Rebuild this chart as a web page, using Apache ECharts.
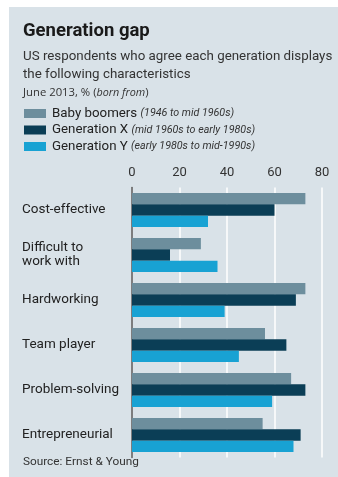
<!DOCTYPE html>
<html>
<head>
<meta charset="utf-8">
<script src="https://cdn.jsdelivr.net/npm/echarts@6/dist/echarts.min.js"></script>
<style>
html,body{margin:0;padding:0;background:#ffffff;}
#chart{width:338px;height:477px;}
</style>
</head>
<body>
<div id="chart"></div>
<script>
var categories = ['Cost-effective', 'Difficult to\nwork with', 'Hardworking', 'Team player', 'Problem-solving', 'Entrepreneurial'];
var seriesNames = ['Baby boomers', 'Generation X', 'Generation Y'];
var seriesNotes = ['1946 to mid 1960s', 'mid 1960s to early 1980s', 'early 1980s to mid-1990s'];
var babyBoomers = [73, 29, 73, 56, 67, 55];
var generationX = [60, 16, 69, 65, 73, 71];
var generationY = [32, 36, 39, 45, 59, 68];
var xTicks = [0, 20, 40, 60, 80];

var FONT = 'Roboto';
var colors = ['#6d8e9d', '#0b3e56', '#18a2d3'];
var values = [babyBoomers, generationX, generationY];

var chart = echarts.init(document.getElementById('chart'));
var series = seriesNames.map(function (n, i) {
  return {
    name: n, type: 'bar', data: values[i],
    barWidth: 11.3, barGap: '0%',
    itemStyle: { color: colors[i] },
    emphasis: { disabled: true }
  };
});
chart.setOption({
  animation: false,
  textStyle: { fontFamily: FONT },
  graphic: [{ type: 'rect', z: -10, shape: { x: 9, y: 7, width: 329, height: 470 }, style: { fill: '#d9e2e8' } }],
  title: [
    { text: 'Generation gap', left: 23, top: 22, padding: 0,
      textStyle: { fontFamily: FONT, fontWeight: 'bold', fontSize: 18.5, color: '#1a1a1a' } },
    { text: 'US respondents who agree each generation displays\nthe following characteristics', left: 23, top: 48, padding: 0,
      textStyle: { fontFamily: FONT, fontWeight: 'normal', fontSize: 13.35, lineHeight: 18, color: '#333' } },
    { text: 'June 2013, % ({i|born from})', left: 23, top: 87, padding: 0,
      textStyle: { fontFamily: 'Open Sans', fontWeight: 'normal', fontSize: 11.3, color: '#333',
        rich: { i: { fontStyle: 'italic', fontSize: 10.8, color: '#333', fontFamily: 'Open Sans' } } } },
    { text: 'Source: Ernst & Young', left: 23, top: 456, padding: 0,
      textStyle: { fontFamily: FONT, fontWeight: 'normal', fontSize: 11.8, color: '#333' } }
  ],
  legend: {
    orient: 'vertical', left: 24, top: 107, padding: 0,
    itemWidth: 22, itemHeight: 9, itemGap: 3.5, icon: 'rect',
    selectedMode: false,
    data: seriesNames,
    formatter: function (name) {
      var i = seriesNames.indexOf(name);
      return name + ' {i|(' + seriesNotes[i] + ')}';
    },
    textStyle: { fontFamily: FONT, fontSize: 13.3, color: '#222', padding: [0, 0, 0, 1],
      rich: { i: { fontStyle: 'italic', fontSize: 10.7, color: '#333', fontFamily: FONT } } }
  },
  grid: { left: 132, right: 16, top: 187.5, bottom: 19.5, containLabel: false },
  xAxis: {
    type: 'value', position: 'top', min: xTicks[0], max: xTicks[xTicks.length - 1], interval: 20,
    axisLine: { show: false }, axisTick: { show: false },
    axisLabel: { fontFamily: FONT, fontSize: 13, color: '#333', margin: 8 },
    splitLine: { lineStyle: { color: '#ffffff', width: 1.5 } }
  },
  yAxis: {
    type: 'category', inverse: true, data: categories,
    axisLine: { show: true, lineStyle: { color: '#555', width: 1.5 } },
    axisTick: { show: false },
    axisLabel: { fontFamily: FONT, fontSize: 13.5, color: '#222', align: 'left', margin: 110, lineHeight: 14 }
  },
  series: series
});
</script>
</body>
</html>
